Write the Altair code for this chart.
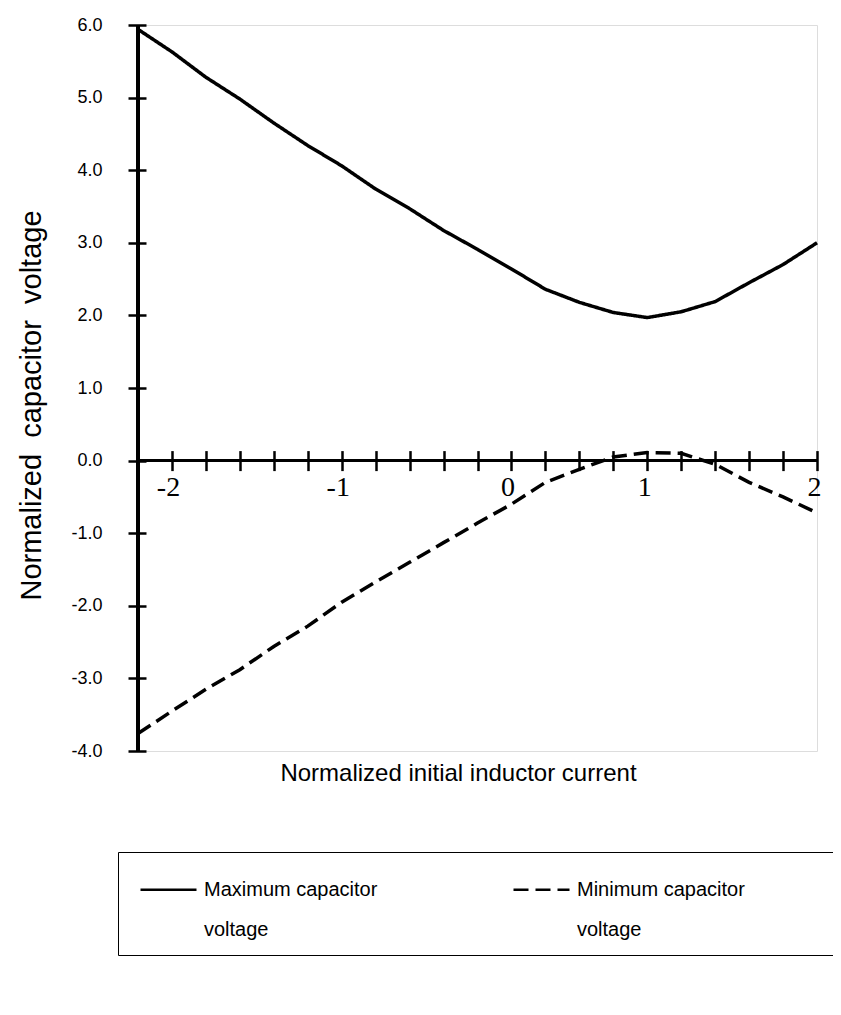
import altair as alt
import pandas as pd

# Normalized initial inductor current (tick grid of the original, step 0.2)
current = [-2.0, -1.8, -1.6, -1.4, -1.2, -1.0, -0.8, -0.6, -0.4, -0.2, 0.0,
           0.2, 0.4, 0.6, 0.8, 1.0, 1.2, 1.4, 1.6, 1.8, 2.0]
# Maximum capacitor voltage (solid)
max_voltage = [5.94, 5.63, 5.28, 4.98, 4.65, 4.34, 4.06, 3.74, 3.47, 3.17, 2.91,
               2.64, 2.36, 2.18, 2.04, 1.97, 2.05, 2.19, 2.45, 2.70, 3.00]
# Minimum capacitor voltage (dashed)
min_voltage = [-3.76, -3.45, -3.15, -2.88, -2.56, -2.28, -1.95, -1.67, -1.40, -1.13, -0.86,
               -0.60, -0.30, -0.12, 0.05, 0.11, 0.10, -0.05, -0.30, -0.50, -0.72]

series_names = ["Maximum capacitor\nvoltage", "Minimum capacitor\nvoltage"]
y_ticks = [-4, -3, -2, -1, 0, 1, 2, 3, 4, 5, 6]

rows = []
for xv, a, b in zip(current, max_voltage, min_voltage):
    rows.append({"x": xv, "v": a, "series": series_names[0]})
    rows.append({"x": xv, "v": b, "series": series_names[1]})
df = pd.DataFrame(rows)

W, H = 679, 726
FONT = "Liberation Sans"

x_scale = alt.Scale(domain=[-2, 2], nice=False, zero=False)
y_scale = alt.Scale(domain=[-4, 6], nice=False, zero=False)

x_axis = alt.Axis(
    values=current,
    tickCount=40,
    domain=False,
    grid=False,
    ticks=True,
    tickSize=20,
    tickWidth=2.5,
    tickColor="black",
    offset=-(H * 0.4 + 10),
    labelExpr="abs(datum.value - round(datum.value)) < 0.01 ? '' + round(datum.value) : ''",
    labelFont="Liberation Serif",
    labelFontSize=28,
    labelColor="black",
    labelBaseline="top",
    labelPadding=3,
    labelOffset={"condition": {"test": "datum.value < 0.5", "value": 30}, "value": -3},
    labelOverlap=False,
    labelFlush=False,
    title="Normalized initial inductor current",
    titleFont=FONT,
    titleFontSize=24,
    titleFontWeight="normal",
    titleColor="black",
    titleAlign="center",
    titleBaseline="alphabetic",
    titleX=320,
    titleY=330,
)

y_axis = alt.Axis(
    values=y_ticks,
    tickCount=20,
    domain=False,
    grid=False,
    ticks=True,
    tickSize=18,
    tickWidth=2.5,
    tickColor="black",
    offset=-8,
    labelExpr="(datum.value < 0 ? '-' : '') + format(abs(datum.value), '.1f')",
    labelFont=FONT,
    labelFontSize=18,
    labelColor="black",
    labelPadding=26,
    labelOverlap=False,
    labelFlush=False,
    title="Normalized\u00a0 capacitor\u00a0 voltage",
    titleFont=FONT,
    titleFontSize=29,
    titleFontWeight="normal",
    titleColor="black",
    titleAngle=-90,
    titleAlign="center",
    titleBaseline="middle",
    titleX=-115,
    titleY=380,
)

lines = alt.Chart(df).mark_line(color="black", strokeWidth=3.5).encode(
    x=alt.X("x:Q", scale=x_scale, axis=x_axis),
    y=alt.Y("v:Q", scale=y_scale, axis=y_axis),
    strokeDash=alt.StrokeDash(
        "series:N",
        scale=alt.Scale(domain=series_names, range=[[1, 0], [15, 7]]),
        legend=alt.Legend(
            # invisible spacer title: only widens the legend frame past the page edge
            title="M" * 141,
            titleOrient="bottom",
            titleFont=FONT,
            titleFontSize=6,
            titleFontWeight="normal",
            titlePadding=1,
            titleLimit=3000,
            titleOpacity=0,
            orient="none",
            legendX=-20,
            legendY=827,
            direction="horizontal",
            columns=2,
            symbolType="stroke",
            symbolSize=3136,
            symbolOffset=13,
            symbolStrokeWidth=2.5,
            symbolStrokeColor="black",
            labelFont=FONT,
            labelFontSize=20,
            labelColor="black",
            labelOffset=6,
            labelLimit=500,
            labelExpr="split(datum.label, '\\n')",
            columnPadding=121,
            padding=8,
            strokeColor="black",
        ),
    ),
)

y_line = alt.Chart(df).mark_rule(color="black", strokeWidth=3).encode(
    x=alt.datum(-2), y=alt.datum(-4), y2=alt.datum(6)
)
x_line = alt.Chart(df).mark_rule(color="black", strokeWidth=2.5).encode(
    y=alt.datum(0), x=alt.datum(-2), x2=alt.datum(2)
)

chart = (
    alt.layer(x_line, y_line, lines)
    .properties(
        width=W,
        height=H,
        autosize=alt.AutoSizeParams(type="none"),
        padding={"left": 130, "top": 17, "right": 16, "bottom": 230},
    )
    .configure_view(stroke=None)
    .configure_legend(strokeWidth=2.5)
    .configure(background="white", style={"guide-label": {"lineHeight": 40}})
)

chart.save("out.html", embed_options={"renderer": "svg", "actions": False})
